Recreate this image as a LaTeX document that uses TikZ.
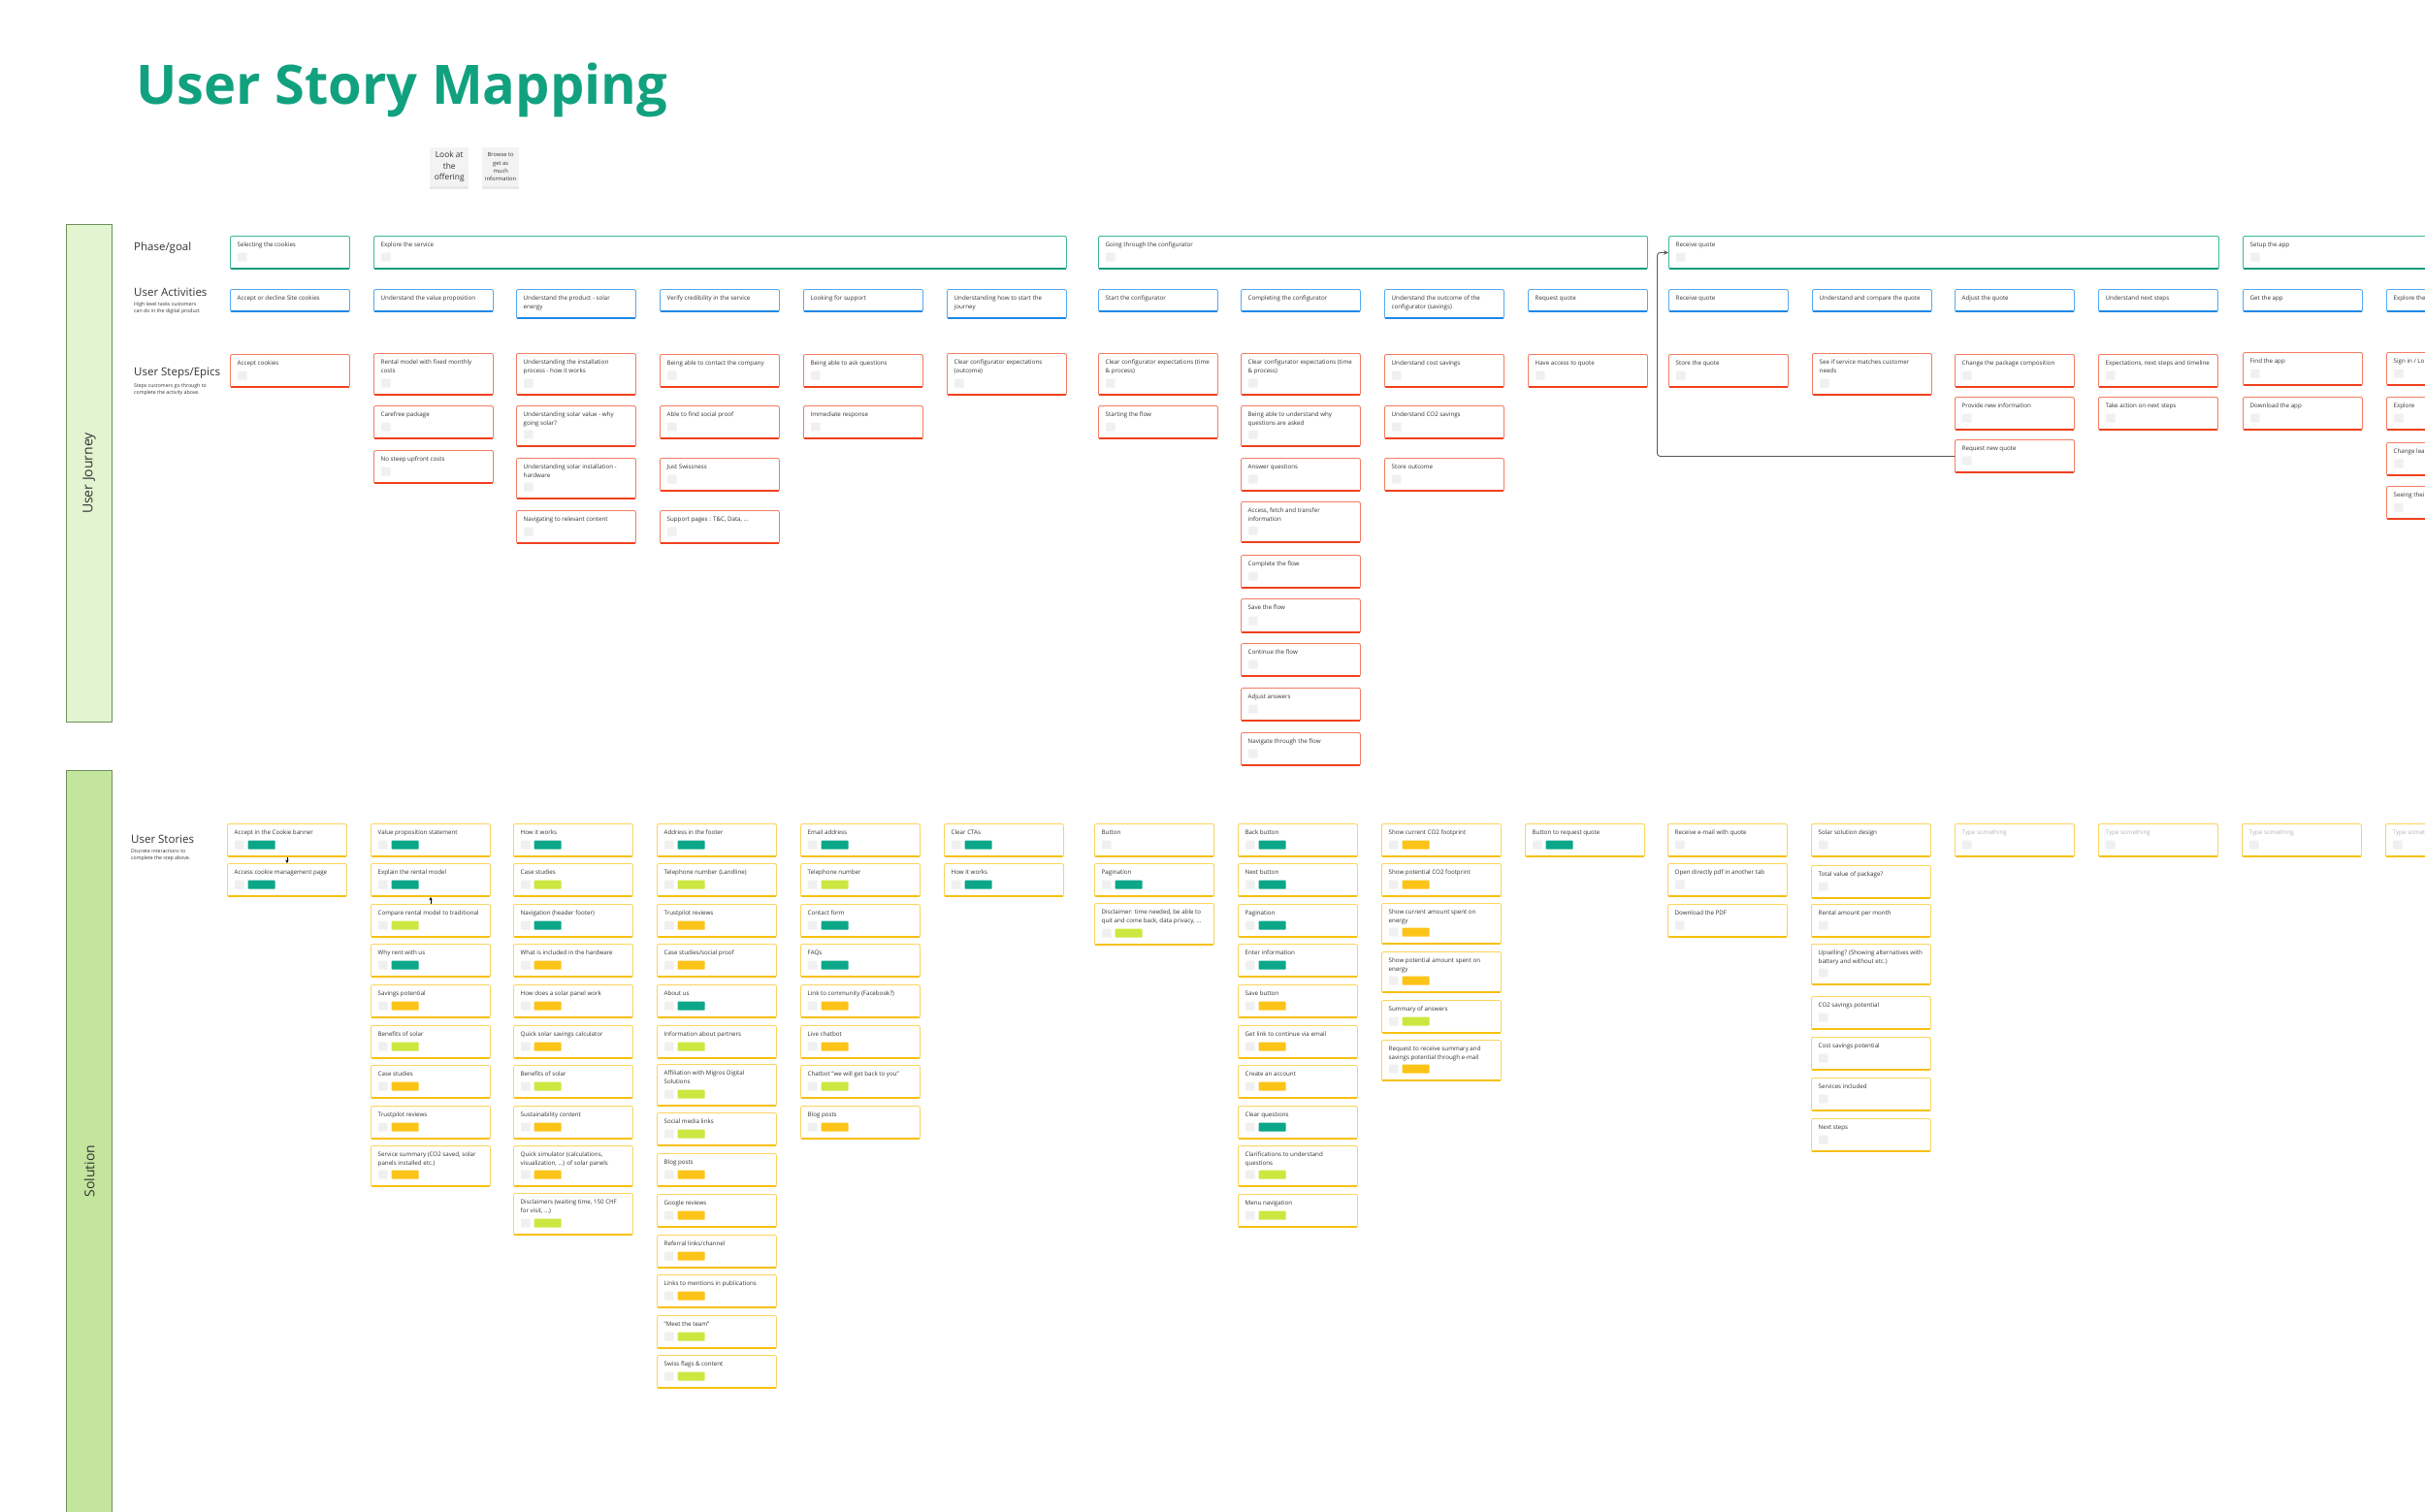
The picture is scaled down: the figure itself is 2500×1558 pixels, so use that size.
\documentclass[tikz,border=0pt]{standalone}
\usepackage{fontspec}
\setmainfont{Open Sans}
\usetikzlibrary{arrows.meta,shadows,calc}
\definecolor{titlecol}{HTML}{12A17F}
\definecolor{txtcol}{HTML}{333333}
\definecolor{phaseb}{HTML}{3DB898}
\definecolor{phasebot}{HTML}{0E9C7C}
\definecolor{actb}{HTML}{55AAF2}
\definecolor{actbot}{HTML}{1E88E5}
\definecolor{stepb}{HTML}{F47C62}
\definecolor{stepbot}{HTML}{F0401E}
\definecolor{storyb}{HTML}{FBD45B}
\definecolor{storybot}{HTML}{F7C00F}
\definecolor{sqgrey}{HTML}{F0F0F0}
\definecolor{tteal}{HTML}{0CA789}
\definecolor{tlime}{HTML}{CDE741}
\definecolor{tyel}{HTML}{FCC419}
\definecolor{phgrey}{HTML}{B5B5B5}
\definecolor{ujfill}{HTML}{E2F4D0}
\definecolor{solfill}{HTML}{C3E59E}
\definecolor{bandline}{HTML}{6E8F5A}
\definecolor{connc}{HTML}{555555}
\tikzset{
  cardshape/.style={anchor=north west,inner sep=0pt,fill=white,rounded corners=2pt,line width=0.9pt},
  cardtext/.style={anchor=north west,inner sep=0pt,align=left,font=\fontsize{6.2}{9.6}\selectfont,text=txtcol},
  sqbox/.style={anchor=south west,inner sep=0pt,minimum width=9.5pt,minimum height=9pt,fill=sqgrey,rounded corners=0.8pt},
  tagbox/.style={anchor=south west,inner sep=0pt,minimum width=28pt,minimum height=9pt,fill=#1,rounded corners=0.8pt},
  heading/.style={anchor=west,inner sep=0pt,font=\fontsize{11.5}{12}\selectfont,text=txtcol},
  subhead/.style={anchor=north west,inner sep=0pt,align=left,font=\fontsize{5.2}{7.3}\selectfont,text=txtcol},
  band/.style={anchor=north west,inner sep=0pt,draw=bandline,line width=1pt,minimum width=47pt},
  bandtext/.style={rotate=90,font=\fontsize{14}{14}\selectfont,text=txtcol},
  sticky/.style={anchor=north west,inner sep=0pt,fill=sqgrey!80!white,minimum width=40pt,minimum height=40pt,align=center,text=txtcol,
    drop shadow={opacity=0.18,shadow xshift=0pt,shadow yshift=-2.5pt}},
  conn/.style={draw=connc,line width=0.9pt,rounded corners=3pt,-{Stealth[length=5pt,width=4.5pt]}},
  sarrow/.style={draw=black,line width=0.7pt,-{Stealth[length=3.5pt,width=3.5pt]}}
}
\newcommand\cardbase[8]{%
  \node[cardshape,draw=#6,minimum width=#4pt,minimum height=#5pt] (#1) at (#2,#3) {};
  \draw[line width=1.8pt,draw=#7,line cap=round] ([xshift=1.6pt,yshift=0.9pt]#1.south west) -- ([xshift=-1.6pt,yshift=0.9pt]#1.south east);
  \node[cardtext] (#1t) at ([xshift=7.5pt,yshift=-6pt]#1.north west) {\rule{0pt}{4.9pt}#8};
}
% phase: name, x, width, text
\newcommand\phasecard[4]{\cardbase{#1}{#2}{243}{#3}{34}{phaseb}{phasebot}{#4}%
  \node[sqbox] (#1s) at ([xshift=8pt,yshift=8pt]#1.south west) {};}
% activity: name, x, height, text
\newcommand\actcard[4]{\cardbase{#1}{#2}{298}{123}{#3}{actb}{actbot}{#4}}
% step: name, x, y, height, text
\newcommand\stepcard[5]{\cardbase{#1}{#2}{#3}{123}{#4}{stepb}{stepbot}{#5}%
  \node[sqbox] (#1s) at ([xshift=8pt,yshift=8pt]#1.south west) {};}
% story: name, x, y, height, text, tag colour
\newcommand\storycard[6]{\cardbase{#1}{#2}{#3}{123}{#4}{storyb}{storybot}{#5}%
  \node[sqbox] (#1s) at ([xshift=8pt,yshift=8pt]#1.south west) {};
  \node[tagbox=#6] (#1g) at ([xshift=21.5pt,yshift=8pt]#1.south west) {};}
% story without tag
\newcommand\storyplain[5]{\cardbase{#1}{#2}{#3}{123}{#4}{storyb}{storybot}{#5}%
  \node[sqbox] (#1s) at ([xshift=8pt,yshift=8pt]#1.south west) {};}

\begin{document}
\begin{tikzpicture}[x=1pt,y=-1pt]
\useasboundingbox (0,0) rectangle (2500,1558);
\fill[white] (0,0) rectangle (2500,1558);

% title
\node[anchor=base west,inner sep=0pt,font=\fontsize{56}{60}\selectfont\bfseries,text=titlecol] (title) at (140,107) {User Story Mapping};

% sticky notes
\node[sticky,font=\fontsize{8.4}{11.5}\selectfont] (n1) at (443,152) {Look at\\the\\offering};
\node[sticky,minimum width=38pt,font=\fontsize{5.8}{8.2}\selectfont] (n2) at (497,152) {Browse to\\get as\\much\\information};

% side bands
\node[band,fill=ujfill,minimum height=513pt] (ujband) at (68,231) {};
\node[bandtext] (ujtext) at (ujband.center) {User Journey};
\node[band,fill=solfill,minimum height=826pt] (solband) at (68,794) {};
\node[bandtext] (soltext) at (solband.center) {Solution};

% row headings
\node[heading] (hphase) at (138,256) {Phase/goal};
\node[heading] (hact) at (138,301.5) {User Activities};
\node[subhead] (hacts) at (138,311.3) {High level tasks customers\\can do in the digital product};
\node[heading] (hstep) at (138,385) {User Steps/Epics};
\node[subhead] (hsteps) at (138,395.3) {Steps customers go through to\\complete the activity above.};
\node[heading] (hstory) at (135,865) {User Stories};
\node[subhead] (hstorys) at (135,875.6) {Discrete interactions to\\complete the step above.};

% phases
\phasecard{p1}{237}{123}{Selecting the cookies}
\phasecard{p2}{385}{714}{Explore the service}
\phasecard{p3}{1132}{566}{Going through the configurator}
\phasecard{p4}{1720}{567}{Receive quote}
\phasecard{p5}{2312}{300}{Setup the app}

% activities
\actcard{a1}{237}{23}{Accept or decline Site cookies}
\actcard{a2}{385}{23}{Understand the value proposition}
\actcard{a3}{532}{30}{Understand the product - solar\\energy}
\actcard{a4}{680}{23}{Verify credibility in the service}
\actcard{a5}{828}{23}{Looking for support}
\actcard{a6}{976}{30}{Understanding how to start the\\journey}
\actcard{a7}{1132}{23}{Start the configurator}
\actcard{a8}{1279}{23}{Completing the configurator}
\actcard{a9}{1427}{30}{Understand the outcome of the\\configurator (savings)}
\actcard{a10}{1575}{23}{Request quote}
\actcard{a11}{1720}{23}{Receive quote}
\actcard{a12}{1868}{23}{Understand and compare the quote}
\actcard{a13}{2015}{23}{Adjust the quote}
\actcard{a14}{2163}{23}{Understand next steps}
\actcard{a15}{2312}{23}{Get the app}
\actcard{a16}{2460}{23}{Explore the}

% steps / epics
\stepcard{e1a}{237}{365}{34}{Accept cookies}
\stepcard{e2a}{385}{364}{43}{Rental model with fixed monthly\\costs}
\stepcard{e2b}{385}{418}{34}{Carefree package}
\stepcard{e2c}{385}{464}{34}{No steep upfront costs}
\stepcard{e3a}{532}{364}{43}{Understanding the installation\\process - how it works}
\stepcard{e3b}{532}{418}{42}{Understanding solar value - why\\going solar?}
\stepcard{e3c}{532}{472}{42}{Understanding solar installation -\\hardware}
\stepcard{e3d}{532}{526}{34}{Navigating to relevant content}
\stepcard{e4a}{680}{365}{34}{Being able to contact the company}
\stepcard{e4b}{680}{418}{34}{Able to find social proof}
\stepcard{e4c}{680}{472}{34}{Just Swissness}
\stepcard{e4d}{680}{526}{34}{Support pages : T\&C, Data, ...}
\stepcard{e5a}{828}{365}{34}{Being able to ask questions}
\stepcard{e5b}{828}{418}{34}{Immediate response}
\stepcard{e6a}{976}{364}{43}{Clear configurator expectations\\(outcome)}
\stepcard{e7a}{1132}{364}{43}{Clear configurator expectations (time\\\& process)}
\stepcard{e7b}{1132}{418}{34}{Starting the flow}
\stepcard{e8a}{1279}{364}{43}{Clear configurator expectations (time\\\& process)}
\stepcard{e8b}{1279}{418}{42}{Being able to understand why\\questions are asked}
\stepcard{e8c}{1279}{472}{34}{Answer questions}
\stepcard{e8d}{1279}{517}{42}{Access, fetch and transfer\\information}
\stepcard{e8e}{1279}{572}{34}{Complete the flow}
\stepcard{e8f}{1279}{617}{35}{Save the flow}
\stepcard{e8g}{1279}{663}{34}{Continue the flow}
\stepcard{e8h}{1279}{709}{34}{Adjust answers}
\stepcard{e8i}{1279}{755}{34}{Navigate through the flow}
\stepcard{e9a}{1427}{365}{34}{Understand cost savings}
\stepcard{e9b}{1427}{418}{34}{Understand CO2 savings}
\stepcard{e9c}{1427}{472}{34}{Store outcome}
\stepcard{e10a}{1575}{365}{34}{Have access to quote}
\stepcard{e11a}{1720}{365}{34}{Store the quote}
\stepcard{e12a}{1868}{364}{43}{See if service matches customer\\needs}
\stepcard{e13a}{2015}{365}{34}{Change the package composition}
\stepcard{e13b}{2015}{409}{34}{Provide new information}
\stepcard{e13c}{2015}{453}{34}{Request new quote}
\stepcard{e14a}{2163}{365}{34}{Expectations, next steps and timeline}
\stepcard{e14b}{2163}{409}{34}{Take action on next steps}
\stepcard{e15a}{2312}{363}{34}{Find the app}
\stepcard{e15b}{2312}{409}{34}{Download the app}
\stepcard{e16a}{2460}{363}{34}{Sign in / Lo}
\stepcard{e16b}{2460}{409}{34}{Explore}
\stepcard{e16c}{2460}{456}{34}{Change lea}
\stepcard{e16d}{2460}{501}{34}{Seeing thei}

% loop-back connector
\draw[conn] (e13c.west) -| ([xshift=-11.5pt]p4.west) -- (p4.west);

% user stories
\storycard{s1a}{234}{849}{34}{Accept in the Cookie banner}{tteal}
\storycard{s1b}{234}{890}{34}{Access cookie management page}{tteal}

\storycard{s2a}{382}{849}{34}{Value proposition statement}{tteal}
\storycard{s2b}{382}{890}{34}{Explain the rental model}{tteal}
\storycard{s2c}{382}{932}{34}{Compare rental model to traditional}{tlime}
\storycard{s2d}{382}{973}{34}{Why rent with us}{tteal}
\storycard{s2e}{382}{1015}{34}{Savings potential}{tyel}
\storycard{s2f}{382}{1057}{34}{Benefits of solar}{tlime}
\storycard{s2g}{382}{1098}{34}{Case studies}{tyel}
\storycard{s2h}{382}{1140}{34}{Trustpilot reviews}{tyel}
\storycard{s2i}{382}{1181}{42}{Service summary (CO2 saved, solar\\panels installed etc.)}{tyel}

\storycard{s3a}{529}{849}{34}{How it works}{tteal}
\storycard{s3b}{529}{890}{34}{Case studies}{tlime}
\storycard{s3c}{529}{932}{34}{Navigation (header footer)}{tteal}
\storycard{s3d}{529}{973}{34}{What is included in the hardware}{tyel}
\storycard{s3e}{529}{1015}{34}{How does a solar panel work}{tyel}
\storycard{s3f}{529}{1057}{34}{Quick solar savings calculator}{tyel}
\storycard{s3g}{529}{1098}{34}{Benefits of solar}{tlime}
\storycard{s3h}{529}{1140}{34}{Sustainability content}{tyel}
\storycard{s3i}{529}{1181}{42}{Quick simulator (calculations,\\visualization, ...) of solar panels}{tyel}
\storycard{s3j}{529}{1230}{43}{Disclaimers (waiting time, 150 CHF\\for visit, ...)}{tlime}

\storycard{s4a}{677}{849}{34}{Address in the footer}{tteal}
\storycard{s4b}{677}{890}{34}{Telephone number (Landline)}{tlime}
\storycard{s4c}{677}{932}{34}{Trustpilot reviews}{tyel}
\storycard{s4d}{677}{973}{34}{Case studies/social proof}{tyel}
\storycard{s4e}{677}{1015}{34}{About us}{tteal}
\storycard{s4f}{677}{1057}{34}{Information about partners}{tlime}
\storycard{s4g}{677}{1097}{43}{Affiliation with Migros Digital\\Solutions}{tlime}
\storycard{s4h}{677}{1147}{34}{Social media links}{tlime}
\storycard{s4i}{677}{1189}{34}{Blog posts}{tyel}
\storycard{s4j}{677}{1231}{34}{Google reviews}{tyel}
\storycard{s4k}{677}{1273}{34}{Referral links/channel}{tyel}
\storycard{s4l}{677}{1314}{34}{Links to mentions in publications}{tyel}
\storycard{s4m}{677}{1356}{34}{"Meet the team"}{tlime}
\storycard{s4n}{677}{1397}{34}{Swiss flags \& content}{tlime}

\storycard{s5a}{825}{849}{34}{Email address}{tteal}
\storycard{s5b}{825}{890}{34}{Telephone number}{tlime}
\storycard{s5c}{825}{932}{34}{Contact form}{tteal}
\storycard{s5d}{825}{973}{34}{FAQs}{tteal}
\storycard{s5e}{825}{1015}{34}{Link to community (Facebook?)}{tyel}
\storycard{s5f}{825}{1057}{34}{Live chatbot}{tyel}
\storycard{s5g}{825}{1098}{34}{Chatbot "we will get back to you"}{tlime}
\storycard{s5h}{825}{1140}{34}{Blog posts}{tyel}

\storycard{s6a}{973}{849}{34}{Clear CTAs}{tteal}
\storycard{s6b}{973}{890}{34}{How it works}{tteal}

\storyplain{s7a}{1128}{849}{34}{Button}
\storycard{s7b}{1128}{890}{34}{Pagination}{tteal}
\storycard{s7c}{1128}{931}{43}{Disclaimer: time needed, be able to\\quit and come back, data privacy, ...}{tlime}

\storycard{s8a}{1276}{849}{34}{Back button}{tteal}
\storycard{s8b}{1276}{890}{34}{Next button}{tteal}
\storycard{s8c}{1276}{932}{34}{Pagination}{tteal}
\storycard{s8d}{1276}{973}{34}{Enter information}{tteal}
\storycard{s8e}{1276}{1015}{34}{Save button}{tyel}
\storycard{s8f}{1276}{1057}{34}{Get link to continue via email}{tyel}
\storycard{s8g}{1276}{1098}{34}{Create an account}{tyel}
\storycard{s8h}{1276}{1140}{34}{Clear questions}{tteal}
\storycard{s8i}{1276}{1181}{42}{Clarifications to understand\\questions}{tlime}
\storycard{s8j}{1276}{1231}{34}{Menu navigation}{tlime}

\storycard{s9a}{1424}{849}{34}{Show current CO2 footprint}{tyel}
\storycard{s9b}{1424}{890}{34}{Show potential CO2 footprint}{tyel}
\storycard{s9c}{1424}{931}{42}{Show current amount spent on\\energy}{tyel}
\storycard{s9d}{1424}{981}{42}{Show potential amount spent on\\energy}{tyel}
\storycard{s9e}{1424}{1031}{34}{Summary of answers}{tlime}
\storycard{s9f}{1424}{1072}{42}{Request to receive summary and\\savings potential through e-mail}{tyel}

\storycard{s10a}{1572}{849}{34}{Button to request quote}{tteal}

\storyplain{s11a}{1719}{849}{34}{Receive e-mail with quote}
\storyplain{s11b}{1719}{890}{34}{Open directly pdf in another tab}
\storyplain{s11c}{1719}{932}{34}{Download the PDF}

\storyplain{s12a}{1867}{849}{34}{Solar solution design}
\storyplain{s12b}{1867}{892}{34}{Total value of package?}
\storyplain{s12c}{1867}{932}{34}{Rental amount per month}
\storyplain{s12d}{1867}{973}{42}{Upselling? (Showing alternatives with\\battery and without etc.)}
\storyplain{s12e}{1867}{1027}{34}{CO2 savings potential}
\storyplain{s12f}{1867}{1069}{34}{Cost savings potential}
\storyplain{s12g}{1867}{1111}{34}{Services included}
\storyplain{s12h}{1867}{1153}{34}{Next steps}

\storyplain{s13a}{2015}{849}{34}{\color{phgrey}Type something}
\storyplain{s14a}{2163}{849}{34}{\color{phgrey}Type something}
\storyplain{s15a}{2311}{849}{34}{\color{phgrey}Type something}
\storyplain{s16a}{2459}{849}{34}{\color{phgrey}Type something}

% story arrows
\draw[sarrow] (s1a.south) -- (s1b.north);
\draw[sarrow] (s2c.north) -- (s2b.south);

\end{tikzpicture}
\end{document}
